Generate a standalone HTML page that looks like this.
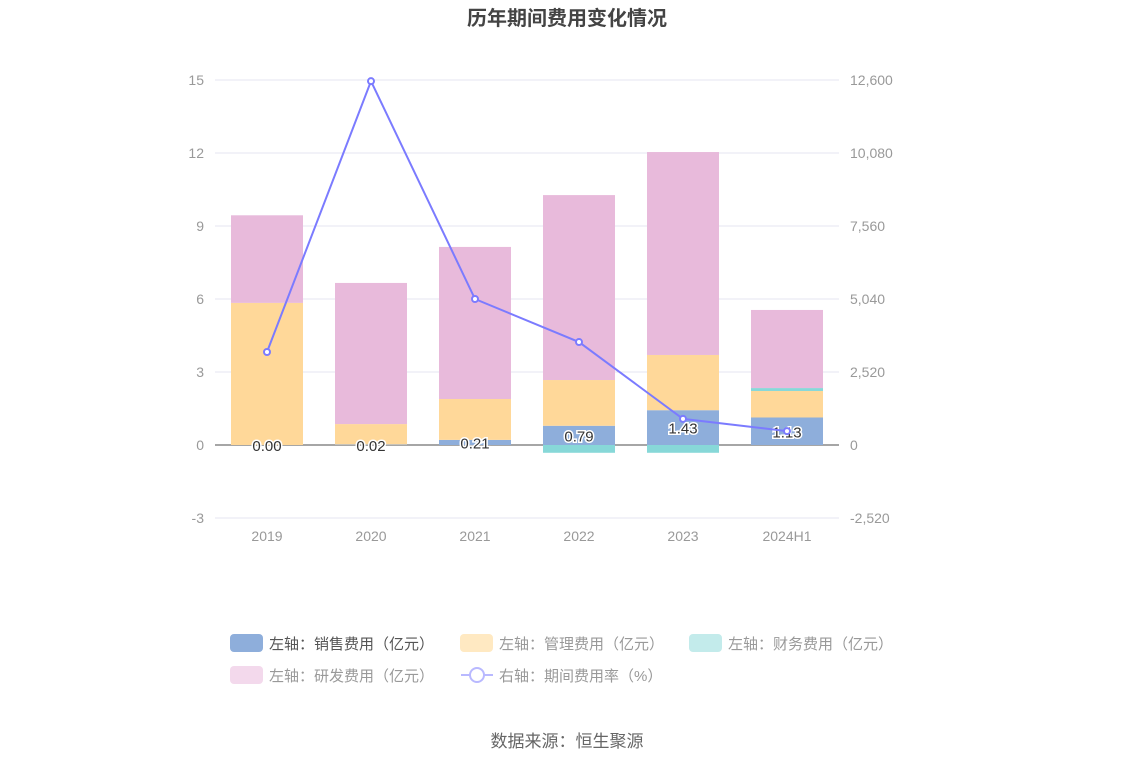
<!DOCTYPE html>
<html><head><meta charset="utf-8"><style>
body{margin:0;background:#fff;width:1134px;height:766px;overflow:hidden;font-family:"Liberation Sans","Noto Sans CJK SC",sans-serif}
</style></head><body>
<svg id="c" width="1134" height="766" xmlns="http://www.w3.org/2000/svg" font-family="Liberation Sans, Noto Sans CJK SC, sans-serif"></svg>
<script>
const categories=["2019","2020","2021","2022","2023","2024H1"];
const sales=[0.00,0.02,0.21,0.79,1.43,1.13];
const admin=[5.84,0.84,1.68,1.88,2.27,1.09];
const finance=[0.0,0.0,0.0,-0.32,-0.32,0.12];
const rnd=[3.6,5.8,6.25,7.6,8.34,3.21];
const rate=[3210,12560,5040,3555,900,480];
const leftTicks=[-3,0,3,6,9,12,15];
const rightTicks=["-2,520","0","2,520","5,040","7,560","10,080","12,600"];
const NS="http://www.w3.org/2000/svg",svg=document.getElementById('c');
function mk(t,a,txt){const e=document.createElementNS(NS,t);for(const k in a)e.setAttribute(k,a[k]);if(txt!==undefined)e.textContent=txt;svg.appendChild(e);return e;}
const y=v=>445-(v)*(365/15);
const yr=v=>445-v*(365/12600);
const x=i=>267+i*104;
let t=mk('text',{x:567,y:25,'text-anchor':'middle','font-size':20,'font-weight':'bold',fill:'#444'},'历年期间费用变化情况');

leftTicks.forEach((v,i)=>{
 const g=mk('line',{x1:215,x2:839,y1:y(v),y2:y(v),stroke:v===0?'#888':'#e4e4f0','stroke-width':v===0?1.5:1});
 
 const a=mk('text',{x:204,y:y(v)+5,'text-anchor':'end','font-size':14,fill:'#999'},String(v));
 
 const b=mk('text',{x:850,y:y(v)+5,'font-size':14,fill:'#999'},rightTicks[i]);
 
});
const bw=72;
categories.forEach((c,i)=>{
 const cx=x(i);let base=0;
 [[sales,'#8eaedb','sales'],[admin,'#ffd899','admin'],[finance,'#87d8d8','finance'],[rnd,'#e8badb','rnd']].forEach(([arr,col,n])=>{
  const v=arr[i];
  if(v<0){const r=mk('rect',{x:cx-bw/2,y:y(0),width:bw,height:y(v)-y(0),fill:col});return;}
  const r=mk('rect',{x:cx-bw/2,y:y(base+v),width:bw,height:Math.max(0,y(base)-y(base+v)),fill:col});
  
  base+=v;
 });
 const xl=mk('text',{x:cx,y:541,'text-anchor':'middle','font-size':14,fill:'#999'},c);
 
});
categories.forEach((c,i)=>{
 const l=mk('text',{x:x(i),y:y(sales[i]/2)+6,'text-anchor':'middle','font-size':15,fill:'#333',stroke:'#fff','stroke-width':3,'paint-order':'stroke'},sales[i].toFixed(2));
 
});
const pl=mk('polyline',{points:rate.map((v,i)=>x(i)+','+yr(v)).join(' '),fill:'none',stroke:'#7b7bff','stroke-width':2});

rate.forEach((v,i)=>{const p=mk('circle',{cx:x(i),cy:yr(v),r:3,fill:'#fff',stroke:'#7b7bff','stroke-width':2});
 });
const leg=[[230,643,'#8eaedb','左轴：销售费用（亿元）','#555'],[460,643,'#ffe9c2','左轴：管理费用（亿元）','#999'],[689,643,'#c3ebeb','左轴：财务费用（亿元）','#999'],[230,675,'#f3d9ec','左轴：研发费用（亿元）','#999']];
leg.forEach(([lx,ly,col,txt,tc])=>{
 const r=mk('rect',{x:lx,y:ly-9,width:33,height:18,rx:4,fill:col});
 const tt=mk('text',{x:lx+39,y:ly+6,'font-size':15,fill:tc},txt);
});
const ll=mk('line',{x1:461,x2:493,y1:675,y2:675,stroke:'#b9b9ff','stroke-width':2});
const lc=mk('circle',{cx:477,cy:675,r:7,fill:'#fff',stroke:'#b9b9ff','stroke-width':2});
const lt=mk('text',{x:499,y:681,'font-size':15,fill:'#999'},'右轴：期间费用率（%）');
const src=mk('text',{x:567,y:747,'text-anchor':'middle','font-size':17,fill:'#666'},'数据来源：恒生聚源');

</script>
</body></html>
